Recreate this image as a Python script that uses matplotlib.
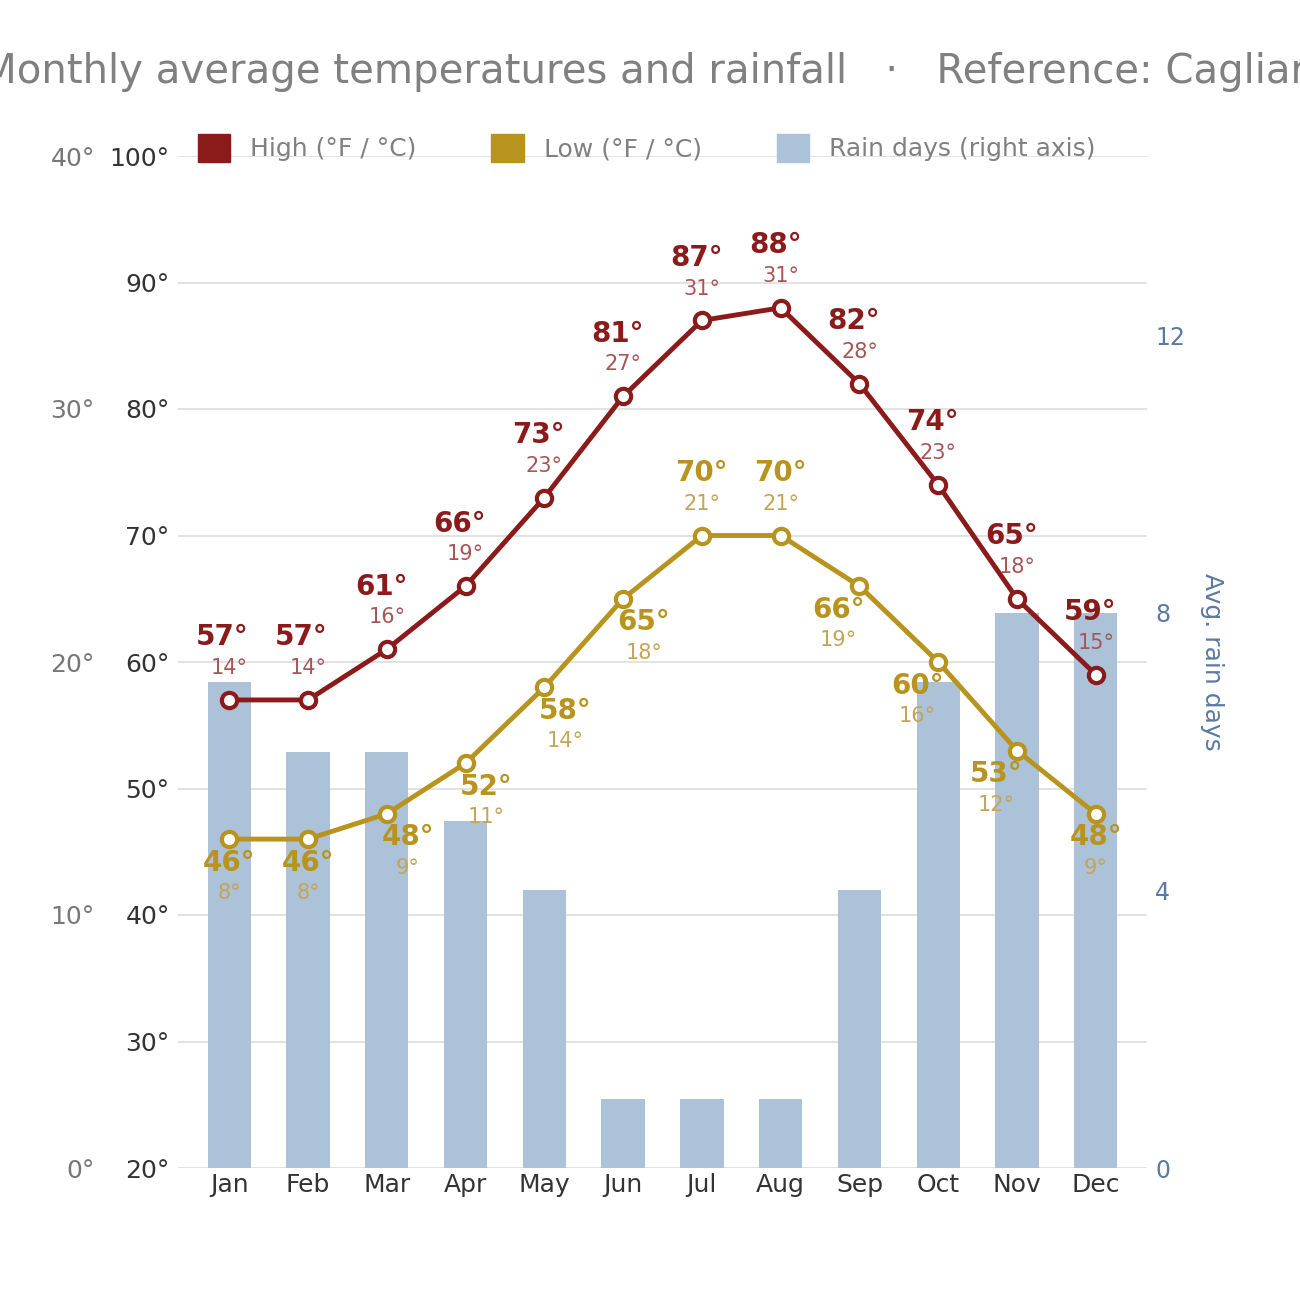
import matplotlib
matplotlib.use("Agg")
import matplotlib.pyplot as plt
import numpy as np
from matplotlib.patches import Patch

months = ["Jan","Feb","Mar","Apr","May","Jun","Jul","Aug","Sep","Oct","Nov","Dec"]
high_f = [57,57,61,66,73,81,87,88,82,74,65,59]
high_c = [14,14,16,19,23,27,31,31,28,23,18,15]
low_f = [46,46,48,52,58,65,70,70,66,60,53,48]
low_c = [8,8,9,11,14,18,21,21,19,16,12,9]
rain_days = [7,6,6,5,4,1,1,1,4,7,8,8]
low_above = [False,False,False,False,False,False,True,True,False,False,False,False]
low_dx = [0,0,15,15,15,15,0,0,-15,-15,-15,0]

RED = "#8b1a1a"; GOLD = "#b8941f"; BLUE = "#abc2d8"
fig = plt.figure(figsize=(13,13), dpi=100)
ax = fig.add_axes([178/1300, 1-1168/1300, 969/1300, 1012/1300])
x = np.arange(12)
axr = ax.twinx()
axr.bar(x, rain_days, width=0.55, color=BLUE, zorder=1)
axr.set_ylim(0, 1012/69.4)
axr.set_yticks([0,4,8,12])
axr.tick_params(axis='y', length=0, labelsize=17, labelcolor="#5b7aa3", pad=6)
axr.set_ylabel("Avg. rain days", fontsize=18, color="#5b7aa3", rotation=270, labelpad=28)
ax.set_zorder(axr.get_zorder()+1); ax.patch.set_visible(False)

ax.set_ylim(20,100); ax.set_xlim(-0.65, 11.65)
ax.set_yticks(range(20,101,10))
ax.set_yticklabels([f"{v}°" for v in range(20,101,10)])
ax.set_xticks(x); ax.set_xticklabels(months)
ax.tick_params(axis='both', length=0, labelsize=18, labelcolor="#333333")
ax.tick_params(axis='y', pad=6)
ax.grid(False)
for a in (ax, axr):
    for s in a.spines.values(): s.set_visible(False)
for v in range(20,101,10):
    axr.axhline((v-20)/80*axr.get_ylim()[1], color="#dddddd", lw=1.2, zorder=0)

# Celsius axis
axc = ax.twinx()
axc.set_ylim(0,40); axc.set_yticks([0,10,20,30,40])
axc.set_yticklabels([f"{v}°" for v in [0,10,20,30,40]])
axc.yaxis.tick_left()
axc.tick_params(axis='y', length=0, labelsize=18, labelcolor="#777777", pad=60)
for s in axc.spines.values(): s.set_visible(False)

ax.plot(x, high_f, color=RED, lw=3.5, marker='o', ms=11, mfc='white', mec=RED, mew=3, zorder=5)
ax.plot(x, low_f, color=GOLD, lw=3.5, marker='o', ms=11, mfc='white', mec=GOLD, mew=3, zorder=5)

for i in range(12):
    ax.annotate(f"{high_f[i]}°", (x[i], high_f[i]), xytext=(-5 if i in (0,1) else -4,45), textcoords='offset points',
                ha='center', va='center', fontsize=20, fontweight='bold', color=RED, zorder=6)
    ax.annotate(f"{high_c[i]}°", (x[i], high_f[i]), xytext=(0,23), textcoords='offset points',
                ha='center', va='center', fontsize=15, color="#a85555", zorder=6)
    if low_above[i]:
        o1, o2 = 45, 23
    else:
        o1, o2 = -17, -39
    ax.annotate(f"{low_f[i]}°", (x[i], low_f[i]), xytext=(low_dx[i],o1), textcoords='offset points',
                ha='center', va='center', fontsize=20, fontweight='bold', color=GOLD, zorder=6)
    ax.annotate(f"{low_c[i]}°", (x[i], low_f[i]), xytext=(low_dx[i],o2), textcoords='offset points',
                ha='center', va='center', fontsize=15, color="#c4a455", zorder=6)

fig.text(0.5, 1-72/1300, "Monthly average temperatures and rainfall   ·   Reference: Cagliari",
         ha='center', va='center', fontsize=29, color="#808080")
handles = [Patch(color=RED), Patch(color="#b8941f"), Patch(color=BLUE)]
fig.legend(handles, ["High (°F / °C)", "Low (°F / °C)", "Rain days (right axis)"],
           loc='center left', bbox_to_anchor=(175/1300, 1-148/1300), ncol=3, frameon=False,
           fontsize=18, labelcolor="#808080", handlelength=1.3, handleheight=1.3, columnspacing=3)
fig.savefig("out.png", dpi=100)
